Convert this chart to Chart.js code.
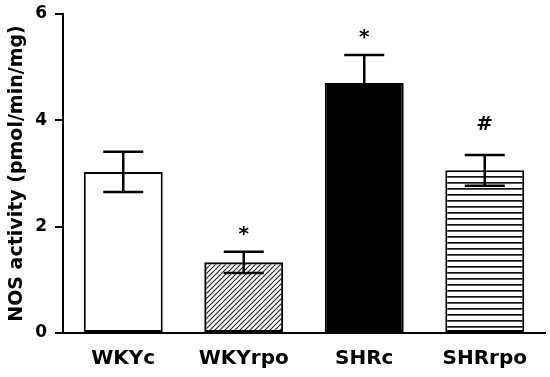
<!DOCTYPE html>
<html>
<head>
<meta charset="utf-8">
<script src="https://cdn.jsdelivr.net/npm/chart.js@4"></script>
<style>
  body { margin: 0; background: #fff; }
</style>
</head>
<body>
<canvas id="chart" width="550" height="377"></canvas>
<script>
const groups = ["WKYc", "WKYrpo", "SHRc", "SHRrpo"];
const means = [3.03, 1.33, 4.70, 3.06];
const errors = [0.38, 0.20, 0.53, 0.29];
const marks = ["", "*", "*", "#"];
const yTicks = [0, 2, 4, 6];

const FONT = "'DejaVu Sans', Arial, sans-serif";

// diagonal hatch tile
function hatchPattern(ctx) {
  const c = document.createElement("canvas");
  c.width = 5; c.height = 5;
  const g = c.getContext("2d");
  g.strokeStyle = "#222";
  g.lineWidth = 1.1;
  g.beginPath();
  g.moveTo(-1, 6); g.lineTo(6, -1);
  g.moveTo(-1, 1); g.lineTo(1, -1);
  g.moveTo(4, 6); g.lineTo(6, 4);
  g.stroke();
  return ctx.createPattern(c, "repeat");
}

// horizontal stripes tile
function stripePattern(ctx) {
  const c = document.createElement("canvas");
  c.width = 6; c.height = 6;
  const g = c.getContext("2d");
  g.fillStyle = "#fff";
  g.fillRect(0, 0, 6, 6);
  g.fillStyle = "#111";
  g.fillRect(0, 2, 6, 1.7);
  return ctx.createPattern(c, "repeat");
}

const ctx = document.getElementById("chart").getContext("2d");
const fills = ["#fff", hatchPattern(ctx), "#000", stripePattern(ctx)];

const errorBars = {
  id: "errorBars",
  afterDatasetsDraw(chart) {
    const c = chart.ctx;
    const y = chart.scales.y;
    const meta = chart.getDatasetMeta(0);
    c.save();
    c.strokeStyle = "#000";
    c.lineWidth = 2.5;
    meta.data.forEach((bar, i) => {
      const top = y.getPixelForValue(means[i] + errors[i]);
      const bot = y.getPixelForValue(means[i] - errors[i]);
      const half = 20;
      c.beginPath();
      c.moveTo(bar.x, top); c.lineTo(bar.x, bot);
      c.moveTo(bar.x - half, top); c.lineTo(bar.x + half, top);
      c.moveTo(bar.x - half, bot); c.lineTo(bar.x + half, bot);
      c.stroke();
      if (marks[i]) {
        c.fillStyle = "#000";
        c.font = "bold 20px " + FONT;
        c.textAlign = "center";
        c.textBaseline = "alphabetic";
        const gap = marks[i] === "#" ? 25 : 12;
        c.fillText(marks[i], bar.x, top - gap);
      }
    });
    c.restore();
  }
};

new Chart(ctx, {
  type: "bar",
  data: {
    labels: groups,
    datasets: [{
      data: means,
      backgroundColor: fills,
      borderColor: "#000",
      borderWidth: 2,
      borderSkipped: false,
      barPercentage: 0.655,
      categoryPercentage: 1
    }]
  },
  options: {
    responsive: false,
    animation: false,
    layout: { padding: { top: 14, right: 5, left: 0, bottom: 0 } },
    plugins: {
      legend: { display: false },
      tooltip: { enabled: false }
    },
    scales: {
      x: {
        grid: { display: false, drawTicks: false },
        border: { display: true, color: "#000", width: 2 },
        ticks: {
          color: "#000",
          padding: 14,
          font: { family: FONT, size: 20, weight: "bold" }
        },
        afterFit(scale) {
          scale.height = 44;
          scale.paddingLeft = 0;
          scale.paddingRight = 0;
        }
      },
      y: {
        min: 0,
        max: 6,
        afterBuildTicks(scale) { scale.ticks = yTicks.map(v => ({ value: v })); },
        grid: {
          drawOnChartArea: false,
          drawTicks: true,
          tickLength: 8,
          color: "#000",
          lineWidth: 2
        },
        border: { color: "#000", width: 2 },
        ticks: {
          color: "#000",
          padding: 8,
          font: { family: FONT, size: 17, weight: "bold" }
        },
        title: {
          display: true,
          text: "NOS activity (pmol/min/mg)",
          color: "#000",
          padding: { top: 6, bottom: 0 },
          font: { family: FONT, size: 19, weight: "bold" }
        },
        afterFit(scale) {
          scale.width = 63;
          scale.paddingTop = 0;
          scale.paddingBottom = 0;
        }
      }
    }
  },
  plugins: [errorBars]
});
</script>
</body>
</html>
